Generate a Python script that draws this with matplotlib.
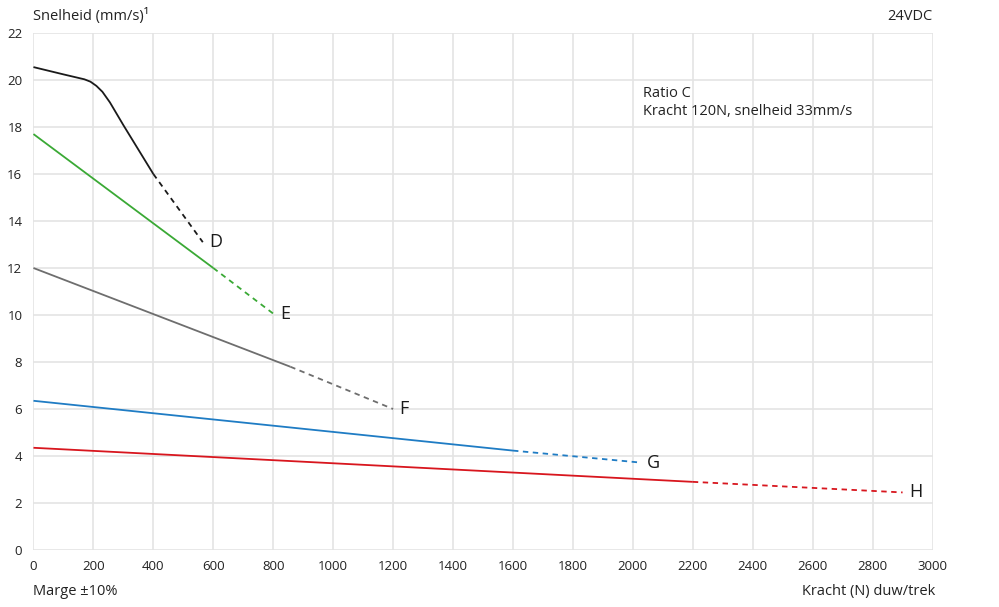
import matplotlib

matplotlib.use("Agg")
import matplotlib.pyplot as plt

plt.rcParams["font.family"] = ["Open Sans", "DejaVu Sans"]

# Curves: solid part (within spec) and dashed continuation
D_solid_x = [0, 100, 170, 190, 210, 230, 255, 300, 400]
D_solid_y = [20.55, 20.24, 20.03, 19.93, 19.75, 19.5, 19.05, 18.08, 16.0]
D_dash_x = [400, 565]
D_dash_y = [16.0, 13.1]

E_solid_x = [0, 600]
E_solid_y = [17.7, 12.0]
E_dash_x = [600, 803]
E_dash_y = [12.0, 10.03]

F_solid_x = [0, 857]
F_solid_y = [12.0, 7.8]
F_dash_x = [857, 1200]
F_dash_y = [7.8, 6.0]

G_solid_x = [0, 1600]
G_solid_y = [6.35, 4.23]
G_dash_x = [1600, 2026]
G_dash_y = [4.23, 3.72]

H_solid_x = [0, 2200]
H_solid_y = [4.35, 2.9]
H_dash_x = [2200, 2900]
H_dash_y = [2.9, 2.45]

series = [
    ("D", "#1a1a1a", D_solid_x, D_solid_y, D_dash_x, D_dash_y),
    ("E", "#3aa935", E_solid_x, E_solid_y, E_dash_x, E_dash_y),
    ("F", "#6e6e6e", F_solid_x, F_solid_y, F_dash_x, F_dash_y),
    ("G", "#1f7cc4", G_solid_x, G_solid_y, G_dash_x, G_dash_y),
    ("H", "#d8161e", H_solid_x, H_solid_y, H_dash_x, H_dash_y),
]

x_ticks = list(range(0, 3001, 200))
y_ticks = list(range(0, 23, 2))

fig = plt.figure(figsize=(9.99, 6.07), dpi=100)
ax = fig.add_axes([0.0335, 0.0939, 0.90, 0.8517])

for name, color, sx, sy, dx, dy in series:
    ax.plot(sx, sy, color=color, linewidth=1.3, solid_capstyle="butt",
            solid_joinstyle="round")
    ax.plot(dx, dy, color=color, linewidth=1.3, linestyle=(0, (3, 2.5)))
    ax.annotate(name, (dx[-1], dy[-1]), xytext=(4.5, 0), textcoords="offset points",
                fontsize=13, color="#1a1a1a", va="center", ha="left")

ax.set_xlim(0, 3000)
ax.set_ylim(0, 22)
ax.set_xticks(x_ticks)
ax.set_yticks(y_ticks)
ax.grid(True, color="#e4e4e4", linewidth=1.2)
ax.set_axisbelow(True)
for s in ax.spines.values():
    s.set_visible(False)
ax.tick_params(length=0, labelsize=9.5, colors="#222222")
ax.tick_params(axis="x", pad=7)
ax.tick_params(axis="y", pad=8)

fig.text(0.0335, 0.973, "Snelheid (mm/s)\u00b9", fontsize=10.5, color="#222222",
         ha="left", va="center")
fig.text(0.9334, 0.973, "24VDC", fontsize=10.5, color="#222222",
         ha="right", va="center")
fig.text(0.0335, 0.026, "Marge \u00b110%", fontsize=10.5, color="#222222",
         ha="left", va="center")
fig.text(0.936, 0.026, "Kracht (N) duw/trek", fontsize=10.5, color="#222222",
         ha="right", va="center")
ax.text(0.6775, 0.866, "Ratio C\nKracht 120N, snelheid 33mm/s", transform=ax.transAxes,
        fontsize=10.5, color="#222222", ha="left", va="center", linespacing=1.3)

fig.savefig("out.png", dpi=100)
